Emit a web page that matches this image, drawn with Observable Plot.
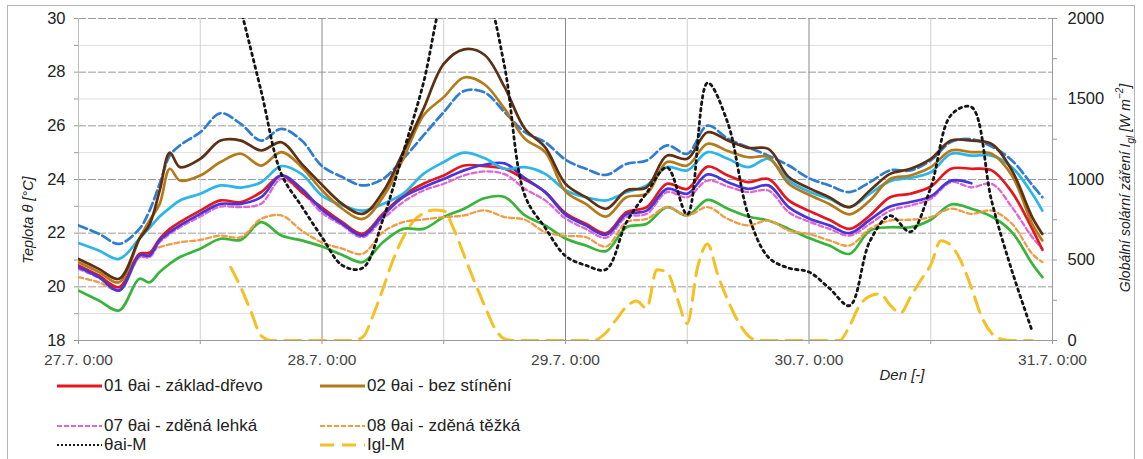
<!DOCTYPE html>
<html>
<head>
<meta charset="utf-8">
<script src="https://cdn.jsdelivr.net/npm/d3@7"></script>
<script src="https://cdn.jsdelivr.net/npm/@observablehq/plot@0.6"></script>
<style>
  html, body { margin: 0; padding: 0; background: #fff; }
  body { font-family: "Liberation Sans", Arial, sans-serif; }
  #fig { position: relative; width: 1143px; height: 459px; overflow: hidden; background: #fff; }
  #frame { position: absolute; left: 7px; top: 5px; width: 1128px; height: 470px; border: 1px solid #b4b4b4; box-sizing: border-box; }
  #chart { position: absolute; left: 0; top: 0; }
  #legend { position: absolute; left: 0; top: 0; width: 1143px; height: 459px; pointer-events: none; }
  .item { position: absolute; display: flex; align-items: center; font-size: 17px; color: #222; white-space: nowrap; height: 20px; }
  .item svg { display: block; }
</style>
</head>
<body>
<div id="fig">
  <div id="frame"></div>
  <div id="chart"></div>
  <div id="legend"></div>
</div>
<script>
// ---------- DATA ----------
// time grid (hours after 27.7. 0:00) for the temperature series
const hours = [0,2,4,6,7,8,9,10,12,14,16,18,20,22,24,26,28,30,32,34,36,38,40,42,44,46,48,50,52,54,56,58,60,62,64,66,68,70,72,74,76,78,80,82,84,86,88,90,92,94,95];

const dayTicks = [0, 24, 48, 72, 96];
const dayLabels = ["27.7. 0:00", "28.7. 0:00", "29.7. 0:00", "30.7. 0:00", "31.7. 0:00"];
const halfDayTicks = [12, 36, 60, 84];
const tempTicks = [18,19,20,21,22,23,24,25,26,27,28,29,30];
const iglTicks = [0,250,500,750,1000,1250,1500,1750,2000];

// 01 θai - základ-dřevo (red)
const t01 = [20.80,20.42,19.99,21.23,21.27,21.79,22.16,22.41,22.84,23.22,23.16,23.53,24.15,23.53,22.95,
  22.41,21.98,22.72,23.40,23.84,24.15,24.52,24.50,24.40,24.00,23.53,22.75,
  22.35,22.00,22.78,22.97,23.84,23.65,24.48,24.15,23.90,24.02,23.22,22.83,
  22.50,22.16,22.66,23.34,23.47,23.74,24.40,24.40,24.34,23.53,22.16,21.38];
// 02 θai - bez stínění (gold-brown)
const t02 = [20.92,20.55,20.17,21.79,22.47,23.09,24.40,23.96,24.15,24.65,24.96,24.52,25.02,24.46,23.60,
  22.91,22.53,23.34,24.77,26.39,27.07,27.80,27.55,26.63,25.52,25.02,23.56,
  23.09,22.62,23.34,23.47,24.65,24.52,25.33,25.06,24.83,24.83,23.84,23.43,
  23.09,22.70,23.22,24.02,24.15,24.46,25.08,25.02,24.96,24.15,22.35,21.73];
// dark brown series
const tBrown = [21.04,20.67,20.30,21.79,22.32,23.59,25.00,24.46,24.77,25.45,25.45,25.08,25.39,24.58,23.80,
  23.09,22.72,23.53,25.02,26.63,28.31,28.85,28.65,27.44,25.89,25.20,23.84,
  23.34,22.91,23.59,23.71,24.89,24.77,25.76,25.45,25.18,25.14,24.09,23.68,
  23.34,22.97,23.59,24.21,24.40,24.77,25.45,25.45,25.33,24.34,22.60,21.97];
// blue dashed series
const tBlueDash = [22.29,21.98,21.60,22.16,22.84,23.84,24.89,25.27,25.76,26.47,26.07,25.45,25.89,25.45,24.50,
  24.09,23.78,24.02,24.77,25.64,26.51,27.30,27.25,26.51,25.76,25.39,24.74,
  24.40,24.17,24.58,24.71,25.27,24.96,26.01,25.52,25.20,24.89,24.52,24.05,
  23.78,23.53,23.90,24.34,24.34,24.71,25.40,25.50,25.23,24.71,23.80,23.34];
// light blue series
const tLightBlue = [21.63,21.35,21.04,21.79,22.20,22.62,22.94,23.22,23.47,23.78,23.70,23.90,24.50,24.20,23.40,
  23.03,22.84,23.09,23.47,24.21,24.65,25.00,24.80,24.40,24.46,24.21,23.60,
  23.34,23.22,23.53,23.78,24.46,24.34,25.02,24.77,24.46,24.77,23.96,23.55,
  23.28,22.97,23.47,23.94,24.06,24.27,24.96,24.89,24.89,24.46,23.47,22.84];
// blue-violet series
const tViolet = [20.73,20.36,19.86,21.17,21.17,21.73,22.04,22.29,22.72,23.09,23.09,23.34,24.15,23.65,22.87,
  22.35,21.91,22.66,23.34,23.71,24.02,24.34,24.55,24.60,24.05,23.53,22.69,
  22.29,21.94,22.70,22.84,23.65,23.47,24.19,23.90,23.65,23.78,22.97,22.55,
  22.29,22.00,22.50,22.99,23.16,23.37,23.96,23.86,null,null,null,null];
// 07 θai - zděná lehká (pink dashed)
const t07 = [20.67,20.34,19.90,21.10,21.10,21.66,21.97,22.22,22.62,22.99,22.97,23.10,24.02,23.53,22.76,
  22.29,21.85,22.53,23.16,23.59,23.84,24.15,24.30,24.20,23.65,23.22,22.55,
  22.16,21.83,22.60,22.72,23.53,23.34,23.96,23.74,23.53,23.59,22.78,22.43,
  22.16,21.91,22.35,22.84,23.03,23.28,23.90,23.71,23.84,22.97,21.85,21.42];
// 08 θai - zděná těžká (orange dashed)
const t08 = [20.36,20.17,19.89,21.11,21.29,21.48,21.58,21.66,21.75,21.91,21.85,22.53,22.66,22.10,21.65,
  21.42,21.23,22.04,22.41,22.51,22.60,22.66,22.85,22.60,22.50,22.04,21.90,
  21.85,21.50,22.41,22.53,22.97,22.66,22.97,22.53,22.29,22.47,22.10,21.97,
  21.73,21.54,22.16,22.47,22.50,22.60,22.91,22.72,22.84,22.35,21.23,20.92];
// green series
const tGreen = [19.86,19.49,19.12,20.30,20.17,20.55,20.86,21.11,21.42,21.79,21.75,22.41,21.91,21.73,21.50,
  21.19,20.92,21.66,22.16,22.16,22.60,22.91,23.30,23.35,22.66,22.29,21.80,
  21.54,21.33,22.22,22.35,22.97,22.66,23.24,22.91,22.62,22.47,22.16,21.82,
  21.54,21.23,22.10,22.22,22.22,22.50,23.07,22.91,22.62,22.04,20.86,20.36];
// θai-M (black dotted); values above 30 run off the chart
const tM = [null,null,null,null,null,null,null,null,null,null,30.35,27.30,24.20,23.00,21.85,
  20.80,20.70,22.50,25.00,27.60,31.00,32.50,31.30,28.20,23.40,22.20,21.15,
  20.80,20.65,22.40,23.50,24.45,22.70,27.60,26.10,22.70,21.10,20.70,20.55,
  19.95,19.30,21.70,22.65,22.05,23.70,26.40,26.70,23.20,20.60,18.35,null];

// Igl-M global solar radiation [W m-2], hourly
const iglHours = [15,16,17,18,19,20,21,22,23,24,25,26,27,28,29,30,31,32,33,34,35,36,37,38,39,40,41,42,43,44,45,46,47,48,49,50,51,52,53,54,55,56,57,58,59,60,61,62,63,64,65,66,67,68,69,70,71,72,73,74,75,76,77,78,79,80,81,82,83,84,85,86,87,88,89,90,91,92,93,94];
const iglM = [455,330,180,30,0,0,0,0,0,0,
  0,0,0,20,150,320,500,640,740,790,
  810,805,690,530,370,220,80,10,0,0,
  0,0,0,0,0,0,5,50,130,210,
  245,200,440,425,265,105,450,600,410,250,
  120,30,0,0,0,0,0,0,0,0,
  0,90,220,275,290,220,170,270,373,470,
  620,590,490,330,150,45,8,0,0,0];

const legendLabels = ["01 θai - základ-dřevo", "02 θai - bez stínění", "07 θai - zděná lehká", "08 θai - zděná těžká", "θai-M", "Igl-M"];

// ---------- STYLES ----------
const C = {
  red: "#e5161e", gold: "#b47a1a", brown: "#5e2f10", blueDash: "#2f7dd1",
  lightBlue: "#2cb5ea", violet: "#4a36d6", pink: "#e263d6", orange: "#f39a45",
  green: "#38b43a", black: "#151515", yellow: "#f4c023"
};
const series = [
  {vals: tGreen,     stroke: C.green,     w: 2.7, dash: null},
  {vals: t08,        stroke: C.orange,    w: 2.3, dash: "5,3"},
  {vals: t07,        stroke: C.pink,      w: 2.3, dash: "5,3"},
  {vals: t01,        stroke: C.red,       w: 2.7, dash: null},
  {vals: tViolet,    stroke: C.violet,    w: 2.7, dash: null},
  {vals: tLightBlue, stroke: C.lightBlue, w: 2.7, dash: null},
  {vals: tBlueDash,  stroke: C.blueDash,  w: 2.7, dash: "9,4"},
  {vals: t02,        stroke: C.gold,      w: 2.7, dash: null},
  {vals: tBrown,     stroke: C.brown,     w: 2.7, dash: null}
];

const toT = v => 18 + v * 12 / 2000;      // right axis (W m-2) -> left axis units
const fromT = t => Math.round((t - 18) * 2000 / 12);
const rows = vals => hours.map((h, i) => ({h, v: vals[i]}));
const iglRows = iglHours.map((h, i) => ({h, v: toT(iglM[i])}));

const font = "'Liberation Sans', Arial, sans-serif";

const marks = [
  Plot.gridY(tempTicks.filter(d => d % 2 === 1), {stroke: "#dedede", strokeOpacity: 1}),
  Plot.gridY(tempTicks.filter(d => d % 2 === 0), {stroke: "#9c9c9c", strokeOpacity: 1, strokeDasharray: "8,2"}),
  Plot.gridX(halfDayTicks, {stroke: "#d0d0d0", strokeOpacity: 1}),
  Plot.gridX(dayTicks.slice(1, 4), {stroke: "#8a8a8a", strokeOpacity: 1}),
  Plot.ruleX([dayTicks[0]], {stroke: "#bdbdbd"}),
  Plot.ruleX([dayTicks[4]], {stroke: "#9a9a9a"}),
  Plot.ruleY([tempTicks[0]], {stroke: "#9a9a9a"}),
  Plot.axisX([...dayTicks, ...halfDayTicks], {
    tickFormat: d => d % 24 === 0 ? dayLabels[d / 24] : "",
    tickSize: 4, tickPadding: 9, fontSize: 15.5, fill: "#444", stroke: "#999", label: null
  }),
  Plot.axisY(tempTicks, {
    anchor: "left", tickFormat: d => d % 2 === 0 ? String(d) : "",
    tickSize: 4, tickPadding: 9, fontSize: 16.5, fill: "#222", stroke: "#999", label: null
  }),
  Plot.axisY(iglTicks.map(toT), {
    anchor: "right", tickFormat: d => { const v = fromT(d); return v % 500 === 0 ? String(v) : ""; },
    tickSize: 4, tickPadding: 11, fontSize: 16.5, fill: "#222", stroke: "#999", label: null
  }),
  Plot.line(iglRows, {x: "h", y: "v", curve: "monotone-x", stroke: C.yellow, strokeWidth: 3, strokeDasharray: "16,9", clip: true}),
  ...series.map(s => Plot.line(rows(s.vals), {
    x: "h", y: "v", curve: "catmull-rom", stroke: s.stroke, strokeWidth: s.w,
    strokeDasharray: s.dash || undefined, clip: true
  })),
  Plot.line(rows(tM), {x: "h", y: "v", curve: "catmull-rom", stroke: C.black, strokeWidth: 2.8, strokeDasharray: "2.5,4", clip: true})
];

const chart = Plot.plot({
  width: 1143,
  height: 382,
  marginTop: 18,
  marginBottom: 42,
  marginLeft: 78,
  marginRight: 91,
  x: {domain: [0, 96]},
  y: {domain: [18, 30]},
  style: {fontFamily: font, background: "transparent", color: "#222", overflow: "visible"},
  marks
});
document.getElementById("chart").appendChild(chart);

// axis titles
const svg = d3.select(chart);
svg.append("text")
  .attr("transform", "translate(29,220) rotate(-90)")
  .attr("text-anchor", "middle").attr("dominant-baseline", "middle")
  .style("font-family", font).style("font-size", "14.5px").style("font-style", "italic").attr("fill", "#222")
  .text("Teplota θ [°C]");
const rt = svg.append("text")
  .attr("transform", "translate(1126,188) rotate(-90)")
  .attr("text-anchor", "middle").attr("dominant-baseline", "middle")
  .style("font-family", font).style("font-size", "14px").style("font-style", "italic").attr("fill", "#222");
rt.append("tspan").text("Globální solární záření I");
rt.append("tspan").attr("baseline-shift", "sub").style("font-size", "10px").text("gl");
rt.append("tspan").text(" [W m");
rt.append("tspan").attr("baseline-shift", "super").style("font-size", "10px").text("−2");
rt.append("tspan").text("]");
svg.append("text")
  .attr("x", 902).attr("y", 380)
  .attr("text-anchor", "middle")
  .style("font-family", font).style("font-size", "15px").style("font-style", "italic").attr("fill", "#222")
  .text("Den [-]");

// legend
const legendItems = [
  {label: legendLabels[0], stroke: C.red,    w: 3,   dash: null,      x: 57,  y: 386},
  {label: legendLabels[1], stroke: C.gold,   w: 3,   dash: null,      x: 320, y: 386},
  {label: legendLabels[2], stroke: C.pink,   w: 2,   dash: "5,2",     x: 57,  y: 426},
  {label: legendLabels[3], stroke: C.orange, w: 2,   dash: "5,2",     x: 320, y: 426},
  {label: legendLabels[4], stroke: C.black,  w: 2,   dash: "2,2",     x: 57,  y: 445},
  {label: legendLabels[5], stroke: C.yellow, w: 3,   dash: "14,8",    x: 320, y: 445}
];
const leg = document.getElementById("legend");
legendItems.forEach(it => {
  const d = document.createElement("div");
  d.className = "item";
  d.style.left = it.x + "px";
  d.style.top = (it.y - 10) + "px";
  d.innerHTML = `<svg width="45" height="20"><line x1="0" y1="10" x2="45" y2="10" stroke="${it.stroke}" stroke-width="${it.w}" ${it.dash ? `stroke-dasharray="${it.dash}"` : ""}/></svg><span style="margin-left:2px">${it.label}</span>`;
  leg.appendChild(d);
});
</script>
</body>
</html>
